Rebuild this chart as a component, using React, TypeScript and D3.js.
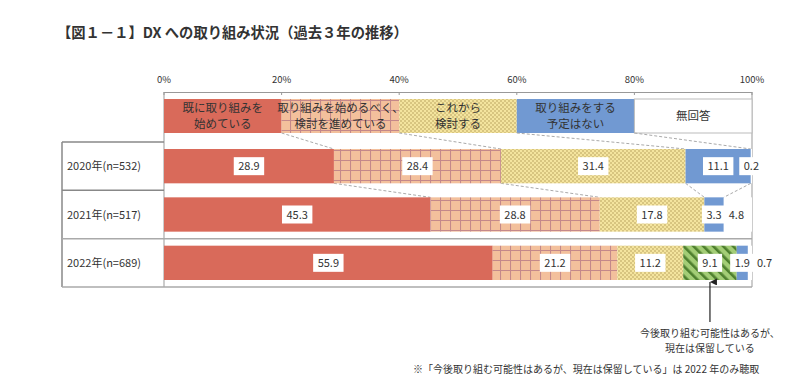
import React from 'react';
import * as d3 from 'd3';

const W = 807;
const H = 389;

// categories (legend order); "保留" exists only in 2022
const categories = ['既に取り組みを始めている', '取り組みを始めるべく、検討を進めている', 'これから検討する', '今後取り組む可能性はあるが、現在は保留している', '取り組みをする予定はない', '無回答'];
const legendLines = [['既に取り組みを', '始めている'], ['取り組みを始めるべく、', '検討を進めている'], ['これから', '検討する'], null, ['取り組みをする', '予定はない'], ['無回答']];
const fills = ['#D96A5A', 'url(#grid)', 'url(#dots)', 'url(#stripes)', '#7199D2', '#FFFFFF'];

const years = ['2020年(n=532)', '2021年(n=517)', '2022年(n=689)'];
const v2020 = [28.9, 28.4, 31.4, 0, 11.1, 0.2];
const v2021 = [45.3, 28.8, 17.8, 0, 3.3, 4.8];
const v2022 = [55.9, 21.2, 11.2, 9.1, 1.9, 0.7];
const values = [v2020, v2021, v2022];
const ticks = [0, 20, 40, 60, 80, 100];

const FONT = '"Noto Sans CJK JP", "Noto Sans", sans-serif';

const App: React.FC = () => {
  const x = d3.scaleLinear().domain([0, 100]).range([164, 752]);
  const y = d3.scaleBand<string>().domain(years).range([142, 287]).paddingInner(0.29).paddingOuter(0.145);
  const rowStep = y.step();
  const rowTop = (i: number) => 142 + i * rowStep;

  // cumulative segments per row
  const rows = values.map(vals => {
    let acc = 0;
    return vals.map((v, k) => {
      const s = { k, v, x0: acc, x1: acc + v };
      acc += v;
      return s;
    }).filter(s => s.v > 0);
  });

  // label placement: if a label would hit the previous one, push it right (no box)
  const labelW = (t: string) => t.length * 6.1 + 6;
  const labels = rows.map(segs => {
    let prevRight = -Infinity;
    return segs.map(s => {
      const t = s.v.toFixed(1);
      let w = labelW(t);
      let cx = x((s.x0 + s.x1) / 2);
      let boxed = true;
      if (cx - w / 2 < prevRight) {
        w = t.length * 6.1;
        cx = prevRight + 1 + w / 2;
        boxed = false;
      }
      prevRight = cx + w / 2;
      return { t, w, cx, k: s.k, boxed };
    });
  });

  // boundaries for connectors
  const bounds = (segs: typeof rows[0]) => segs.slice(0, -1).map(s => s.x1);
  const legendBounds = [20, 40, 60, 80];
  const legendTop = 99;
  const legendBot = 133;

  const b0 = bounds(rows[0]);
  const b1 = bounds(rows[1]);
  const bar0 = y(years[0])!;
  const bar1 = y(years[1])!;
  const bw = y.bandwidth();

  const holdSeg = rows[2].find(s => s.k === 3)!;
  const arrowX = x((holdSeg.x0 + holdSeg.x1) / 2);
  const bar2 = y(years[2])!;

  const legendCats = [0, 1, 2, 4, 5];

  return (
    <svg width={W} height={H} style={{ position: 'absolute', left: 0, top: 0, background: '#fff' }} fontFamily={FONT}>
      <defs>
        <pattern id="grid" width={10} height={10} patternUnits="userSpaceOnUse">
          <rect width={10} height={10} fill="#F3C09C" />
          <path d="M0.5 0 V10 M0 0.5 H10" stroke="#C4888A" strokeWidth={1.1} />
        </pattern>
        <pattern id="dots" width={4} height={4} patternUnits="userSpaceOnUse">
          <rect width={4} height={4} fill="#F4E49E" />
          <circle cx={1} cy={1} r={0.75} fill="#AF9752" />
          <circle cx={3} cy={3} r={0.75} fill="#AF9752" />
        </pattern>
        <pattern id="stripes" width={7} height={7} patternUnits="userSpaceOnUse" patternTransform="rotate(-45)">
          <rect width={7} height={7} fill="#A3CD76" />
          <rect width={2.6} height={7} fill="#4E7F2E" />
        </pattern>
        <marker id="arrow" viewBox="0 0 10 10" refX={5} refY={0} markerWidth={7} markerHeight={9} orient="auto-start-reverse" markerUnits="userSpaceOnUse">
          <path d="M0 10 L5 0 L10 10 Z" fill="#222" />
        </marker>
      </defs>

      {/* title */}
      <text x={57} y={38} fontSize={14.3} fontWeight={700} fill="#333">【図１－１】DX への取り組み状況（過去３年の推移）</text>

      {/* axis */}
      {ticks.map(t => (
        <g key={t}>
          <text x={x(t)} y={83} fontSize={9.5} fill="#333" textAnchor="middle">{t}%</text>
          <line x1={x(t)} x2={x(t)} y1={92} y2={95} stroke="#999" />
        </g>
      ))}
      <line x1={x(0)} x2={x(100)} y1={92.5} y2={92.5} stroke="#999" />
      <line x1={x(0)} x2={x(0)} y1={92} y2={287} stroke="#999" />
      <line x1={x(100)} x2={x(100)} y1={92} y2={287} stroke="#999" />

      {/* legend */}
      {legendCats.map((k, i) => (
        <g key={k}>
          <rect x={x(i * 20)} y={legendTop} width={x(20) - x(0)} height={legendBot - legendTop} fill={fills[k]} stroke={k === 5 ? '#bbb' : 'none'} />
          {legendLines[k]!.map((ln, j, arr) => (
            <text key={j} x={x(i * 20 + 10)} y={(legendTop + legendBot) / 2 + (j - (arr.length - 1) / 2) * 16 + 4} fontSize={11.5} fill="#333" textAnchor="middle">{ln}</text>
          ))}
        </g>
      ))}

      {/* connectors */}
      {legendBounds.map((lb, i) => (
        <line key={'l' + i} x1={x(lb)} y1={legendBot} x2={x(b0[i])} y2={bar0} stroke="#aaa" strokeDasharray="3,2" />
      ))}
      {b0.map((b, i) => (
        <line key={'c' + i} x1={x(b)} y1={bar0 + bw} x2={x(b1[i])} y2={bar1} stroke="#aaa" strokeDasharray="3,2" />
      ))}

      {/* table */}
      <line x1={62} x2={62} y1={rowTop(0)} y2={rowTop(3)} stroke="#888" strokeWidth={1.5} />
      {[0, 1, 2, 3].map(i => (
        <line key={i} x1={62} x2={i >= 2 ? x(100) : x(0)} y1={rowTop(i)} y2={rowTop(i)} stroke={i >= 2 ? '#aaa' : '#888'} strokeWidth={1.5} />
      ))}
      {years.map((yr, i) => (
        <text key={yr} x={67} y={rowTop(i) + rowStep / 2 + 4} fontSize={11} fill="#333">{yr}</text>
      ))}

      {/* bars */}
      {rows.map((segs, r) => (
        <g key={r}>
          {segs.map(s => (
            <rect key={s.k} x={x(s.x0)} y={y(years[r])} width={x(s.x1) - x(s.x0)} height={bw} fill={fills[s.k]} />
          ))}
          {labels[r].map(l => (
            <g key={l.k}>
              {l.boxed && <rect x={l.cx - l.w / 2} y={y(years[r])! + bw / 2 - 9} width={l.w} height={18} fill="#fff" />}
              <text x={l.cx} y={y(years[r])! + bw / 2 + 4} fontSize={11} fill="#333" textAnchor="middle">{l.t}</text>
            </g>
          ))}
        </g>
      ))}

      {/* annotation */}
      <line x1={arrowX} x2={arrowX} y1={322} y2={bar2 + bw + 2} stroke="#222" strokeWidth={1.2} markerEnd="url(#arrow)" />
      <text x={arrowX} y={337} fontSize={10} fill="#333" textAnchor="middle">今後取り組む可能性はあるが、</text>
      <text x={arrowX} y={352} fontSize={10} fill="#333" textAnchor="middle">現在は保留している</text>
      <text x={413} y={373} fontSize={10} fill="#333">※「今後取り組む可能性はあるが、現在は保留している」は 2022 年のみ聴取</text>
    </svg>
  );
};

export default App;
